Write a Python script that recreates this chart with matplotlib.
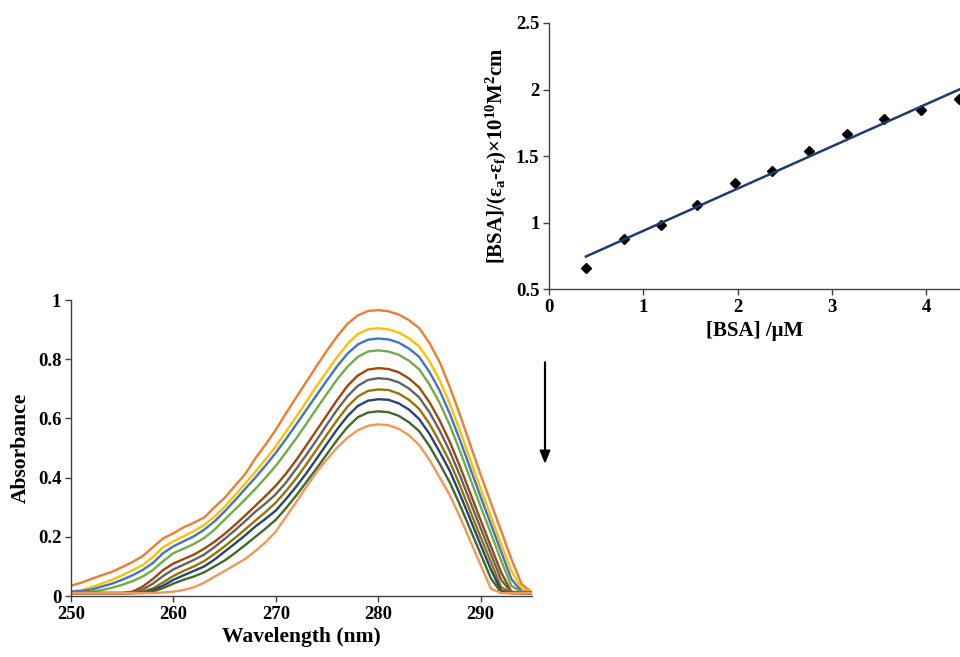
import numpy as np
import matplotlib
matplotlib.use("Agg")
import matplotlib.pyplot as plt

plt.rcParams['font.family'] = 'Liberation Serif'
plt.rcParams['font.weight'] = 'bold'
plt.rcParams['mathtext.fontset'] = 'custom'
plt.rcParams['mathtext.rm'] = 'Liberation Serif:bold'
plt.rcParams['mathtext.bf'] = 'Liberation Serif:bold'
plt.rcParams['mathtext.it'] = 'Liberation Serif:bold:italic'

# UV-vis spectra, one value per nm from 250 to 295
wavelength = np.arange(250, 296)
spectra = [
    [.035, .045, .058, .070, .082, .098, .115, .135, .165, .195, .212, .232, .248, .265, .300, .332,
     .372, .412, .465, .512, .562, .618, .672, .725, .778, .830, .878, .920, .948, .963, .966, .962,
     .951, .932, .905, .855, .790, .705, .610, .510, .410, .315, .220, .125, .040, .012],
    [.015, .020, .030, .042, .055, .070, .087, .105, .132, .165, .185, .202, .220, .240, .268, .302,
     .340, .380, .420, .462, .506, .556, .606, .658, .710, .760, .808, .852, .885, .901, .905, .901,
     .890, .871, .843, .793, .729, .648, .556, .459, .362, .269, .175, .085, .025, .012],
    [.015, .017, .022, .032, .042, .055, .070, .088, .112, .145, .168, .185, .202, .224, .252, .286,
     .323, .362, .400, .441, .484, .531, .580, .630, .680, .729, .777, .819, .850, .866, .870, .867,
     .856, .836, .808, .757, .694, .615, .525, .430, .335, .243, .150, .058, .015, .012],
    [.012, .012, .015, .020, .028, .038, .050, .066, .088, .118, .145, .160, .176, .196, .224, .258,
     .292, .326, .362, .400, .440, .486, .533, .583, .634, .684, .733, .775, .808, .826, .830, .826,
     .815, .795, .766, .715, .652, .576, .488, .395, .302, .212, .120, .035, .012, .010],
    [.010, .010, .010, .010, .010, .010, .015, .032, .058, .088, .110, .125, .140, .160, .183, .210,
     .240, .272, .305, .338, .373, .414, .460, .510, .561, .612, .663, .710, .745, .765, .770, .767,
     .756, .735, .705, .655, .593, .520, .436, .346, .256, .168, .080, .015, .010, .010],
    [.010, .010, .010, .010, .010, .010, .012, .022, .042, .068, .090, .106, .122, .140, .165, .193,
     .222, .253, .285, .313, .344, .384, .430, .478, .528, .580, .630, .675, .710, .730, .736, .733,
     .722, .701, .671, .621, .559, .488, .405, .317, .229, .142, .055, .012, .010, .010],
    [.010, .010, .010, .010, .010, .010, .010, .015, .026, .046, .068, .085, .100, .118, .142, .168,
     .196, .225, .255, .284, .316, .355, .398, .446, .496, .546, .595, .640, .674, .693, .698, .696,
     .684, .663, .632, .582, .520, .453, .372, .285, .199, .115, .030, .010, .010, .010],
    [.010, .010, .010, .010, .010, .010, .010, .012, .020, .035, .055, .070, .085, .100, .123, .150,
     .177, .205, .235, .261, .289, .328, .370, .416, .465, .515, .564, .608, .642, .660, .665, .663,
     .651, .630, .598, .548, .487, .422, .342, .258, .173, .090, .018, .010, .010, .010],
    [.010, .010, .010, .010, .010, .010, .010, .010, .015, .027, .042, .055, .066, .080, .100, .120,
     .145, .172, .200, .228, .258, .297, .340, .386, .432, .480, .528, .571, .604, .620, .624, .621,
     .609, .587, .557, .507, .447, .383, .306, .224, .142, .060, .012, .010, .010, .010],
    [.010, .010, .010, .010, .010, .010, .010, .010, .010, .012, .015, .020, .030, .045, .065, .085,
     .105, .125, .152, .182, .218, .268, .318, .370, .420, .462, .502, .535, .560, .575, .580, .577,
     .565, .543, .510, .460, .400, .340, .265, .185, .105, .025, .010, .010, .010, .010],
]
colors = ['#ED7D31', '#FFC000', '#4472C4', '#70AD47', '#9E480E',
          '#636363', '#997300', '#264478', '#43682B', '#F1975A']

# Benesi-Hildebrand type plot
bsa = [0.39, 0.79, 1.19, 1.57, 1.97, 2.37, 2.76, 3.16, 3.55, 3.95, 4.35]
ratio = [0.655, 0.875, 0.985, 1.13, 1.30, 1.39, 1.535, 1.665, 1.775, 1.845, 1.93]
fit_slope, fit_intercept = 0.317, 0.621

fig = plt.figure(figsize=(9.6, 6.57), dpi=100)

ax = fig.add_axes([0.074, 0.0928, 0.480, 0.4505])
for y, c in zip(spectra, colors):
    ax.plot(wavelength, y, color=c, lw=1.7)
ax.set_xlim(250, 295)
ax.set_ylim(0, 1)
ax.set_xticks([250, 260, 270, 280, 290])
ax.set_yticks([0, 0.2, 0.4, 0.6, 0.8, 1])
ax.set_yticklabels(['0', '0.2', '0.4', '0.6', '0.8', '1'])
ax.set_xlabel('Wavelength (nm)', fontsize=15.5, fontweight='bold', labelpad=3)
ax.set_ylabel('Absorbance', fontsize=15.5, fontweight='bold', labelpad=5)

ax2 = fig.add_axes([0.572, 0.560, 0.428, 0.405])
ax2.plot(bsa, ratio, 'D', color='black', ms=5, clip_on=False)
xf = np.array([bsa[0], bsa[-1]])
ax2.plot(xf, fit_intercept + fit_slope * xf, color='#1F3A6E', lw=1.8)
ax2.set_xlim(0, 4.36)
ax2.set_ylim(0.5, 2.5)
ax2.set_xticks([0, 1, 2, 3, 4])
ax2.set_yticks([0.5, 1, 1.5, 2, 2.5])
ax2.set_yticklabels(['0.5', '1', '1.5', '2', '2.5'])
ax2.set_xlabel('[BSA] /μM', fontsize=15, fontweight='bold', labelpad=4)
ax2.set_ylabel(r'[BSA]/(ε$_{\mathrm{a}}$-ε$_{\mathrm{f}}$)×10$^{\mathrm{10}}$M$^{\mathrm{2}}$cm',
               fontsize=15, fontweight='bold', labelpad=5)

for a in (ax, ax2):
    for s in ('top', 'right'):
        a.spines[s].set_visible(False)
    for s in ('left', 'bottom'):
        a.spines[s].set_color('#404040')
        a.spines[s].set_linewidth(1.0)
    a.tick_params(direction='out', length=4, width=1, color='#404040',
                  labelsize=13.5, pad=3)
    for lab in a.get_xticklabels() + a.get_yticklabels():
        lab.set_fontweight('bold')

fig.patches.append(matplotlib.patches.FancyArrow(
    545 / 960, 1 - 362 / 657, 0, -(462 - 362) / 657 + 0.018, width=0.0008,
    head_width=0.010, head_length=0.018, color='black',
    transform=fig.transFigure, figure=fig))

fig.savefig('out.png', dpi=100)
